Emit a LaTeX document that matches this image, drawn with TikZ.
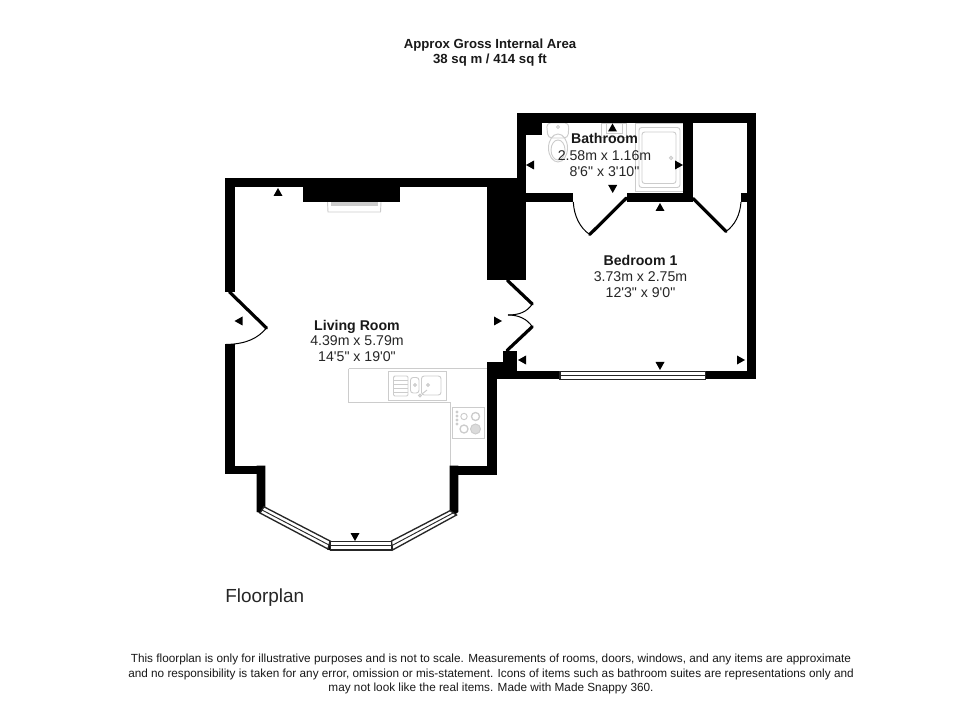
\documentclass[tikz,border=0pt]{standalone}
\usepackage{fontspec}
\setmainfont{Liberation Sans}
\newfontfamily\plainfont{Liberation Sans}
\definecolor{fix}{gray}{0.8}
\tikzset{
  wall/.style={fill=black,draw=none},
  leaf/.style={draw=black,line width=2.4pt,line cap=round},
  swing/.style={draw=black,line width=0.75pt},
  fixture/.style={draw=fix,line width=0.7pt,fill=none},
  glass/.style={draw=black!85,line width=1pt,fill=white},
  roomname/.style={font=\plainfont\fontsize{10.6}{12}\selectfont\bfseries,inner sep=0pt,text=black!90,anchor=base},
  roomdim/.style={font=\plainfont\fontsize{10.6}{12}\selectfont,inner sep=0pt,text=black!85,anchor=base},
  heading/.style={font=\plainfont\fontsize{9.9}{11}\selectfont\bfseries,inner sep=0pt,text=black!90,anchor=base},
  smallprint/.style={font=\plainfont\fontsize{8.83}{11}\selectfont,inner sep=0pt,text=black!90,anchor=base},
}
\begin{document}
\begin{tikzpicture}[x=0.75pt,y=-0.75pt]
\useasboundingbox (0,0) rectangle (980,712);
\fill[white] (0,0) rectangle (980,712);

% fixtures (under the walls)
\draw[fixture] (348.5,368.5) -- (487.5,368.5);
\draw[fixture] (348.5,368.5) -- (348.5,402.5) -- (450,402.5) -- (450,467);
\draw[fixture] (388.5,371) rectangle (446.5,400);
\draw[fixture,rounded corners=1pt] (393.5,376) rectangle (408,396);
\foreach \yy in {380,384,388,392} \draw[fixture] (394,\yy) -- (408,\yy);
\draw[fixture,rounded corners=2pt] (410.5,377.5) rectangle (419,393);
\draw[fixture,rounded corners=2pt] (421.5,376) rectangle (441,395);
\draw[fixture] (415,385) circle (1.4);
\draw[fixture] (428,385) circle (1.4);
\draw[fixture] (420,395.5) circle (1.4);
\draw[fixture] (422,394) -- (427,390);
\draw[fixture] (452.5,407) rectangle (484.5,438.5);
\draw[fixture] (464,416.5) circle (3.2);
\draw[fixture,line width=1pt] (475.5,416.5) circle (4);
\draw[fixture,line width=1pt] (464,429) circle (4);
\draw[fixture,fill=fix!70] (475.5,429) circle (5);
\foreach \yy in {412,416,420,424} \draw[fixture] (457,\yy) circle (1);
\draw[fixture] (327.5,202) -- (328,212) -- (380.5,212) -- (381,202);
\fill[fix] (330.5,202) rectangle (378,206);
% bath
\draw[fixture] (635.5,123) rectangle (683.5,191.5);
\draw[fixture,rounded corners=2pt] (639,127.5) rectangle (680,187.5);
\draw[fixture,rounded corners=2pt] (642,132) rectangle (676,183.5);
\draw[fixture] (671,158) circle (1.6);
% toilet
\draw[fixture,rounded corners=3pt] (546.5,123) -- (569,123) -- (568,138) -- (548,138) -- cycle;
\draw[fixture] (558,127) circle (1.5);
\draw[fixture] (558,148) ellipse (9.5 and 14);
\draw[fixture] (558,150) ellipse (7 and 10);
% basin
\draw[fixture] (601.5,123) rectangle (626,137);
\draw[fixture] (606,123) rectangle (622,133);

% walls
\fill[wall] (225,178.3) rectangle (526,187.5);
\fill[wall] (225,178.3) rectangle (234.5,291.7);
\fill[wall] (225,344) rectangle (234.5,474);
\fill[wall] (303,178.3) rectangle (400.3,202.3);
\fill[wall] (487.3,178.3) rectangle (525.7,280);
\fill[wall] (516.7,113) rectangle (526,202.3);
\fill[wall] (516.7,113) rectangle (755.5,122.7);
\fill[wall] (516.7,113) rectangle (541.5,135);
\fill[wall] (746.7,113) rectangle (755.5,379.3);
\fill[wall] (683.3,113) rectangle (692.7,202.3);
\fill[wall] (516.7,193.3) rectangle (573.3,202.3);
\fill[wall] (626.7,193.3) rectangle (692.7,202.3);
\fill[wall] (741,193.3) rectangle (755.5,202.3);
\fill[wall] (487.3,361.7) rectangle (517.3,379.3);
\fill[wall] (503.3,350.7) rectangle (517.3,379.3);
\fill[wall] (487.3,361.7) rectangle (496.5,475);
\fill[wall] (517,371) rectangle (560,379.3);
\fill[wall] (705.7,371) rectangle (755.5,379.3);
\fill[wall] (225,465.7) rectangle (265.3,474.2);
\fill[wall] (256.7,465.7) -- (265.3,465.7) -- (265.3,506.7) -- (260,513) -- (256.7,512) -- cycle;
\fill[wall] (449.7,465.7) rectangle (496.5,474.5);
\fill[wall] (449.7,465.7) -- (458.3,465.7) -- (458.3,512) -- (454.5,515) -- (449.7,510.5) -- cycle;
\fill[wall] (327,549.5) -- (331,540.5) -- (331,550.5) -- cycle;
\fill[wall] (393,549.5) -- (390.5,540.5) -- (390.5,550.5) -- cycle;

% windows
\draw[glass] (560,371.3) rectangle (705.7,379.3);
\draw[black!85,line width=0.7pt] (560,375.3) -- (705.7,375.3);
\draw[glass] (264,506.8) -- (330,541) -- (328,549) -- (260,513) -- cycle;
\draw[black!85,line width=0.7pt] (262,510) -- (329,545);
\draw[glass] (330.5,541.3) rectangle (391.5,550);
\draw[black!85,line width=0.7pt] (330.5,545.5) -- (391.5,545.5);
\draw[glass] (450,510.7) -- (391.5,541) -- (392.5,550) -- (456.5,515) -- cycle;
\draw[black!85,line width=0.7pt] (453,513) -- (392,545.5);

% doors
\draw[leaf] (229.5,292) -- (266.5,328);
\draw[swing] (266.5,328) .. controls (258,338) and (247,344) .. (226,344.5);
\draw[leaf] (507.5,280.5) -- (532.3,304);
\draw[swing] (532.3,304) .. controls (527,312) and (519,315) .. (508,315);
\draw[swing] (508,315) .. controls (519,315) and (527,319) .. (532.3,326.7);
\draw[leaf] (532.3,326.7) -- (507,350.5);
\draw[leaf] (626.5,198) -- (589.7,234.5);
\draw[swing] (573.3,202) .. controls (574,216) and (580,228) .. (589.7,234.5);
\draw[leaf] (693,198.5) -- (726,231.5);
\draw[swing] (741,202) .. controls (740,215) and (735,225) .. (726,231.5);

% markers
\foreach \xx/\yy in {278/192,612.5/127.5,660/207} \fill[black] (\xx-4.5,\yy+4) -- (\xx+4.5,\yy+4) -- (\xx,\yy-4) -- cycle;
\foreach \xx/\yy in {612.7/189,355/537,660/366} \fill[black] (\xx-4.5,\yy-4) -- (\xx+4.5,\yy-4) -- (\xx,\yy+4) -- cycle;
\foreach \xx/\yy in {238.5/321,530/165,522/360} \fill[black] (\xx+4,\yy-4.5) -- (\xx+4,\yy+4.5) -- (\xx-4,\yy) -- cycle;
\foreach \xx/\yy in {498/321,679/165,741/360} \fill[black] (\xx-4,\yy-4.5) -- (\xx-4,\yy+4.5) -- (\xx+4,\yy) -- cycle;

% texts
\node[heading] (h1) at (490,48.8) {Approx Gross Internal Area};
\node[heading] (h2) at (490,63.5) {38 sq m / 414 sq ft};
\node[roomname] (bath) at (604.5,144) {Bathroom};
\node[roomdim] (bath2) at (604.5,160.5) {2.58m x 1.16m};
\node[roomdim] (bath3) at (604.5,176.5) {8'6" x 3'10"};
\node[roomname] (bed) at (640.5,265.5) {Bedroom 1};
\node[roomdim] (bed2) at (640.5,282) {3.73m x 2.75m};
\node[roomdim] (bed3) at (640.5,297.8) {12'3" x 9'0"};
\node[roomname] (liv) at (357,330) {Living Room};
\node[roomdim] (liv2) at (357,345.7) {4.39m x 5.79m};
\node[roomdim] (liv3) at (357,362) {14'5" x 19'0"};
\node[font=\plainfont\fontsize{14.2}{16}\selectfont,inner sep=0pt,anchor=base west,text=black!85] (fp) at (225,602) {Floorplan};
\node[smallprint] (f1) at (491,662.5) {This floorplan is only for illustrative purposes and is not to scale. Measurements of rooms, doors, windows, and any items are approximate};
\node[smallprint] (f2) at (491,677) {and no responsibility is taken for any error, omission or mis-statement. Icons of items such as bathroom suites are representations only and};
\node[smallprint] (f3) at (491,691.5) {may not look like the real items. Made with Made Snappy 360.};
\end{tikzpicture}
\end{document}
